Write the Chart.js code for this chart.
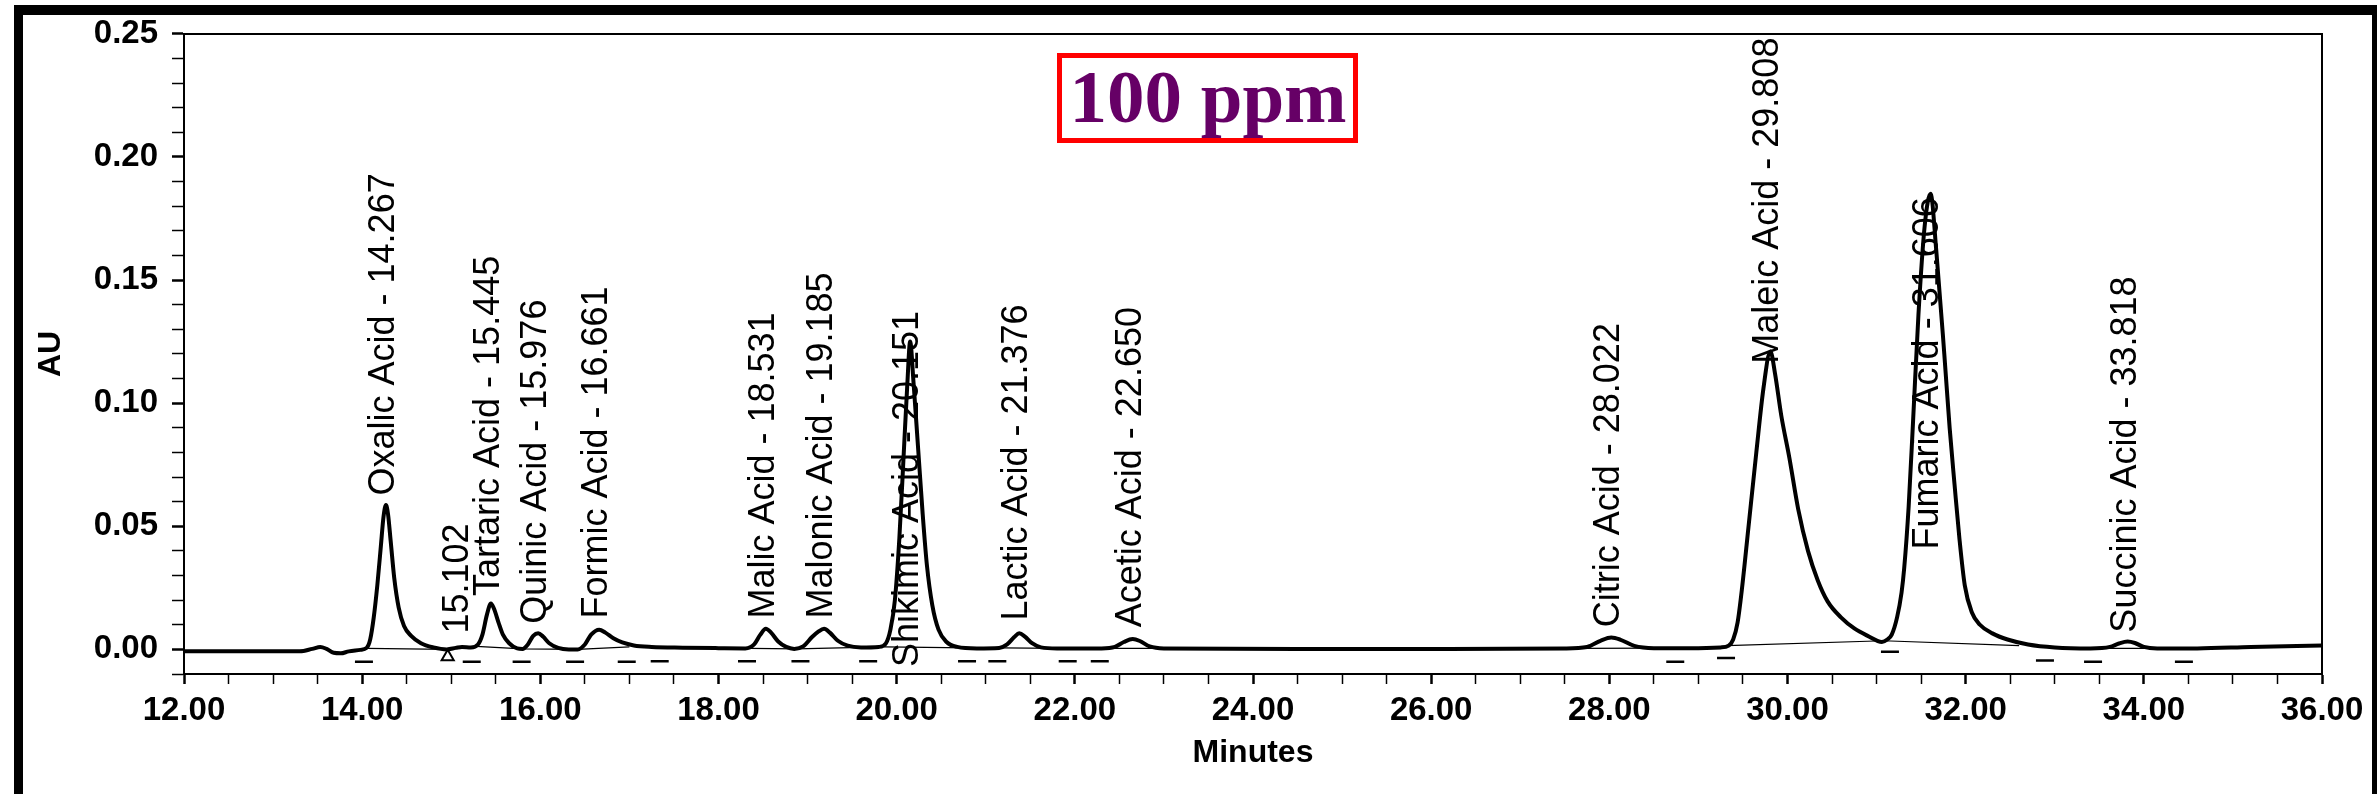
<!DOCTYPE html>
<html>
<head>
<meta charset="utf-8">
<title>Organic acids - 100 ppm</title>
<script src="https://cdn.jsdelivr.net/npm/chart.js@4.4.1/dist/chart.umd.min.js"></script>
<style>
  html, body { margin: 0; padding: 0; background: #fff; }
  canvas { display: block; }
</style>
</head>
<body>
<canvas id="chart" width="2377" height="794"></canvas>
<script>
// detector trace (minutes / AU)
const traceTime = [
  12.00, 13.30, 13.44, 13.53, 13.60, 13.68, 13.76, 13.85, 13.98, 14.05,
  14.09, 14.13, 14.17, 14.21, 14.24, 14.267, 14.29, 14.32, 14.36, 14.41,
  14.47, 14.55, 14.66, 14.80, 14.95, 15.05, 15.12, 15.22, 15.30, 15.35,
  15.40, 15.445, 15.48, 15.53, 15.58, 15.65, 15.74, 15.80, 15.86, 15.92,
  15.976, 16.03, 16.10, 16.20, 16.32, 16.42, 16.50, 16.57, 16.661, 16.73,
  16.82, 16.92, 17.05, 17.25, 17.60, 18.00, 18.30, 18.40, 18.47, 18.531,
  18.59, 18.67, 18.76, 18.85, 18.95, 19.05, 19.12, 19.185, 19.25, 19.34,
  19.45, 19.60, 19.80, 19.88, 19.93, 19.98, 20.03, 20.08, 20.12, 20.151,
  20.19, 20.24, 20.29, 20.34, 20.40, 20.47, 20.56, 20.68, 20.90, 21.15,
  21.24, 21.32, 21.376, 21.44, 21.52, 21.62, 21.80, 22.30, 22.45, 22.55,
  22.65, 22.73, 22.84, 23.00, 24.50, 26.00, 27.50, 27.75, 27.90, 28.022,
  28.12, 28.28, 28.50, 28.90, 29.25, 29.34, 29.39, 29.44, 29.49, 29.56,
  29.65, 29.73, 29.808, 29.86, 29.93, 30.02, 30.12, 30.23, 30.34, 30.45,
  30.60, 30.75, 30.90, 31.06, 31.12, 31.17, 31.23, 31.28, 31.31, 31.36,
  31.41, 31.47, 31.54, 31.606, 31.67, 31.76, 31.82, 31.875, 31.93, 31.99,
  32.07, 32.16, 32.30, 32.47, 32.70, 33.00, 33.40, 33.62, 33.72, 33.818,
  33.90, 34.00, 34.15, 34.60, 35.20, 36.00
];
const traceAU = [
  -0.0008, -0.0008, 0.0002, 0.0010, 0.0002, -0.0014, -0.0016, -0.0008, -0.0002, 0.0006,
  0.0040, 0.0130, 0.0260, 0.0420, 0.0540, 0.0586, 0.0550, 0.0440, 0.0290, 0.0170,
  0.0095, 0.0055, 0.0025, 0.0008, 0.0000, 0.0006, 0.0010, 0.0008, 0.0020, 0.0060,
  0.0140, 0.0186, 0.0165, 0.0110, 0.0060, 0.0025, 0.0004, 0.0002, 0.0020, 0.0055,
  0.0066, 0.0052, 0.0025, 0.0006, 0.0000, 0.0000, 0.0020, 0.0060, 0.0080, 0.0068,
  0.0045, 0.0028, 0.0016, 0.0010, 0.0007, 0.0005, 0.0004, 0.0020, 0.0060, 0.0084,
  0.0068, 0.0032, 0.0010, 0.0002, 0.0012, 0.0050, 0.0072, 0.0084, 0.0068, 0.0035,
  0.0015, 0.0008, 0.0010, 0.0025, 0.0080, 0.0200, 0.0450, 0.0800, 0.1080, 0.1250,
  0.1080, 0.0820, 0.0560, 0.0340, 0.0180, 0.0080, 0.0030, 0.0010, 0.0004, 0.0006,
  0.0020, 0.0050, 0.0065, 0.0052, 0.0025, 0.0008, 0.0004, 0.0004, 0.0010, 0.0030,
  0.0042, 0.0034, 0.0012, 0.0004, 0.0002, 0.0002, 0.0004, 0.0010, 0.0035, 0.0048,
  0.0040, 0.0014, 0.0005, 0.0005, 0.0008, 0.0015, 0.0040, 0.0110, 0.0250, 0.0490,
  0.0800, 0.1060, 0.1210, 0.1120, 0.0950, 0.0780, 0.0570, 0.0400, 0.0280, 0.0195,
  0.0130, 0.0085, 0.0055, 0.0030, 0.0040, 0.0060, 0.0130, 0.0230, 0.0330, 0.0580,
  0.0930, 0.1360, 0.1720, 0.1850, 0.1620, 0.1200, 0.0900, 0.0670, 0.0450, 0.0260,
  0.0150, 0.0100, 0.0065, 0.0040, 0.0020, 0.0008, 0.0004, 0.0010, 0.0024, 0.0032,
  0.0026, 0.0010, 0.0004, 0.0004, 0.0010, 0.0016
];

// peak annotations: name, retention time, AU where the label text starts
const peakNames = [
  'Oxalic Acid', '', 'Tartaric Acid', 'Quinic Acid', 'Formic Acid', 'Malic Acid',
  'Malonic Acid', 'Shikimic Acid', 'Lactic Acid', 'Acetic Acid', 'Citric Acid',
  'Maleic Acid', 'Fumaric Acid', 'Succinic Acid'
];
const peakTimes = [
  14.267, 15.102, 15.445, 15.976, 16.661, 18.531,
  19.185, 20.151, 21.376, 22.650, 28.022,
  29.808, 31.606, 33.818
];
const labelAnchorAU = [
  0.0625, 0.0064, 0.0217, 0.0104, 0.0125, 0.0125,
  0.0125, -0.0072, 0.0117, 0.0090, 0.0090,
  0.1160, 0.0406, 0.0068
];

// integration baseline drawn under the peaks (null = gap)
const baseTime = [
  14.05, 14.95, 14.95, 15.28, 15.80, 16.42, 17.00, 17.00, 18.35, 18.88, 19.60, 19.60,
  19.86, 20.80, 20.80, 21.18, 21.80, 21.80, 22.35, 23.00, 23.00, 27.65, 28.55, 28.55,
  29.32, 31.08, 32.60, 32.60, 33.50, 34.30
];
const baseAU = [
  0.0004, 0.0000, null, 0.0012, 0.0002, 0.0000, 0.0010, null, 0.0004, 0.0002, 0.0008, null,
  0.0010, 0.0006, null, 0.0006, 0.0004, null, 0.0004, 0.0004, null, 0.0004, 0.0005, null,
  0.0015, 0.0035, 0.0015, null, 0.0004, 0.0004
];

// peak start / end event marks below the trace
const markerTime = [
  14.02, 15.23, 15.79, 16.39, 16.97, 17.34, 18.32, 18.92, 19.68, 20.79,
  21.13, 21.92, 22.28, 28.74, 29.31, 31.15, 32.89, 33.43, 34.45
];
const markerAU = [
  -0.0050, -0.0050, -0.0050, -0.0050, -0.0050, -0.0048, -0.0048, -0.0048, -0.0048, -0.0048,
  -0.0048, -0.0048, -0.0048, -0.0050, -0.0035, -0.0010, -0.0045, -0.0050, -0.0050
];
const splitTime = [14.96];
const splitAU = [-0.003];

const pts = (xs, ys) => xs.map((t, i) => ({ x: t, y: ys[i] }));

const axisDash = [12, 3, 3, 3];
const tickFont = { family: '"Liberation Sans", Arial, sans-serif', size: 33, weight: 'bold' };
const titleFont = { family: '"Liberation Sans", Arial, sans-serif', size: 32, weight: 'bold' };

const peakLabels = {
  id: 'peakLabels',
  afterDatasetsDraw(chart) {
    const { ctx, scales: { x, y } } = chart;
    ctx.save();
    ctx.font = '36px "Liberation Sans", Arial, sans-serif';
    ctx.fillStyle = '#000';
    ctx.textAlign = 'left';
    ctx.textBaseline = 'middle';
    peakNames.forEach((name, i) => {
      const time = peakTimes[i].toFixed(3);
      const text = name ? `${name} - ${time}` : time;
      ctx.save();
      ctx.translate(x.getPixelForValue(peakTimes[i]) - 2, y.getPixelForValue(labelAnchorAU[i]));
      ctx.rotate(-Math.PI / 2);
      ctx.fillText(text, 0, 0);
      ctx.restore();
    });
    ctx.restore();
  }
};

// scanned page frame and the "100 ppm" tag
const pageFrame = {
  id: 'pageFrame',
  afterDraw(chart) {
    const { ctx, width, height } = chart;
    ctx.save();
    ctx.fillStyle = '#000';
    ctx.fillRect(14, 5, 9, height - 5);
    ctx.fillRect(14, 5, width - 14, 10);
    ctx.fillRect(width - 5, 5, 5, height - 5);

    ctx.strokeStyle = '#ff0000';
    ctx.lineWidth = 5;
    ctx.strokeRect(1059.5, 55.5, 296, 85);
    ctx.fillStyle = '#660066';
    ctx.font = 'bold 75px "Liberation Serif", "Times New Roman", serif';
    ctx.textAlign = 'center';
    ctx.textBaseline = 'alphabetic';
    ctx.fillText('100 ppm', 1208, 122);
    ctx.restore();
  }
};

new Chart(document.getElementById('chart'), {
  type: 'line',
  data: {
    datasets: [
      {
        label: 'Trace',
        data: pts(traceTime, traceAU),
        borderColor: '#000',
        borderWidth: 4,
        pointRadius: 0,
        cubicInterpolationMode: 'monotone',
        borderJoinStyle: 'round',
        xAxisID: 'x', yAxisID: 'y',
        order: 1
      },
      {
        label: 'Baseline',
        data: pts(baseTime, baseAU),
        borderColor: '#000',
        borderWidth: 1.2,
        pointRadius: 0,
        spanGaps: false,
        xAxisID: 'x', yAxisID: 'y',
        order: 2
      },
      {
        label: 'Events',
        data: pts(markerTime, markerAU),
        showLine: false,
        pointStyle: 'line',
        pointRadius: 9,
        pointBorderColor: '#000',
        pointBorderWidth: 2.5,
        xAxisID: 'x', yAxisID: 'y',
        order: 3
      },
      {
        label: 'Split',
        data: pts(splitTime, splitAU),
        showLine: false,
        pointStyle: 'triangle',
        pointRadius: 7,
        pointBackgroundColor: 'rgba(0,0,0,0)',
        pointBorderColor: '#000',
        pointBorderWidth: 2,
        xAxisID: 'x', yAxisID: 'y',
        order: 3
      }
    ]
  },
  options: {
    responsive: false,
    devicePixelRatio: 1,
    animation: false,
    events: [],
    layout: { padding: { left: 0, right: 55, top: 27, bottom: 0 } },
    plugins: { legend: { display: false }, tooltip: { enabled: false } },
    scales: {
      x: {
        type: 'linear', position: 'bottom', min: 12, max: 36,
        afterFit: s => { s.height = 120; },
        grid: {
          display: true, drawOnChartArea: false, drawTicks: true, tickLength: 10,
          tickColor: '#000',
          tickWidth: c => (c.tick && Math.round(c.tick.value * 2) % 4 === 0 ? 2.5 : 1.5)
        },
        border: { display: true, color: '#000', width: 2, dash: axisDash },
        ticks: {
          stepSize: 0.5, autoSkip: false, maxRotation: 0, padding: 7,
          color: '#000', font: tickFont,
          callback: v => (Math.round(v * 2) % 4 === 0 ? v.toFixed(2) : '')
        },
        title: { display: true, text: 'Minutes', color: '#000', font: titleFont, padding: { top: 0, bottom: 22 } }
      },
      y: {
        type: 'linear', position: 'left', min: -0.01, max: 0.25,
        afterFit: s => { s.width = 184; },
        grid: {
          display: true, drawOnChartArea: false, drawTicks: true, tickLength: 12,
          tickColor: '#000',
          tickWidth: c => (c.tick && Math.round(c.tick.value * 100) % 5 === 0 ? 2.5 : 1.5)
        },
        border: { display: true, color: '#000', width: 2, dash: axisDash },
        ticks: {
          stepSize: 0.01, autoSkip: false, padding: 14,
          color: '#000', font: tickFont,
          callback: v => {
            const k = Math.round(v * 100);
            return k >= 0 && k % 5 === 0 ? v.toFixed(2) : '';
          }
        },
        title: { display: true, text: 'AU', color: '#000', font: titleFont, padding: { top: 32, bottom: 0 } }
      },
      xTop: {
        type: 'linear', position: 'top', min: 12, max: 36,
        afterFit: s => { s.height = 0; },
        grid: { display: false },
        ticks: { display: false },
        border: { display: true, color: '#000', width: 2, dash: axisDash }
      },
      yRight: {
        type: 'linear', position: 'right', min: -0.01, max: 0.25,
        afterFit: s => { s.width = 0; },
        grid: { display: false },
        ticks: { display: false },
        border: { display: true, color: '#000', width: 2, dash: axisDash }
      }
    }
  },
  plugins: [peakLabels, pageFrame]
});
</script>
</body>
</html>
